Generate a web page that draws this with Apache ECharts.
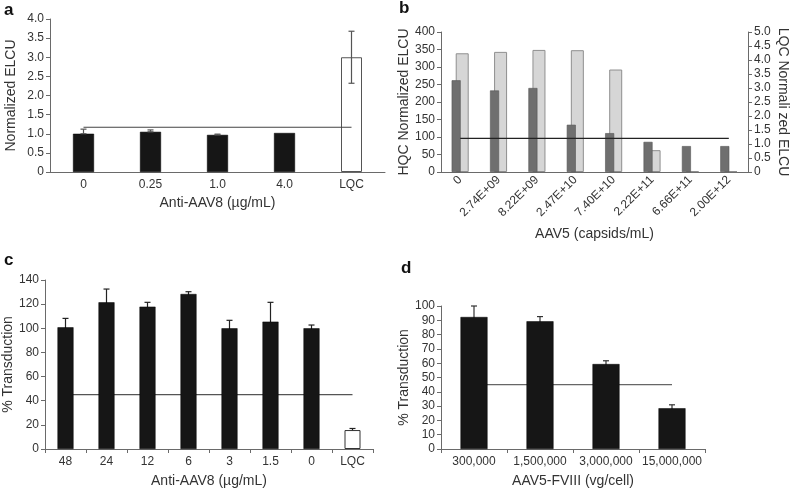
<!DOCTYPE html>
<html><head><meta charset="utf-8">
<script src="https://cdn.jsdelivr.net/npm/echarts@6/dist/echarts.min.js"></script>
<style>html,body{margin:0;padding:0;background:#fff}#c{width:792px;height:492px}</style>
</head><body><div id="c"></div>
<script>
// ---- Panel a ----
const catsA = ['0', '0.25', '1.0', '4.0', 'LQC'];
const valsA = [1.0, 1.05, 0.97, 1.02, 3.0];
const errLoA = [1.0, 1.05, 0.97, 1.02, 2.32];
const errHiA = [1.12, 1.10, 0.99, 1.02, 3.68];
const cutA = [1.17, 1.17, 1.17, 1.17, 1.17];
// ---- Panel b ----
const catsB = ['0', '2.74E+09', '8.22E+09', '2.47E+10', '7.40E+10', '2.22E+11', '6.66E+11', '2.00E+12'];
const hqcB = [262, 233, 240, 135, 111, 86, 74, 74];
const lqcB = [4.24, 4.29, 4.36, 4.35, 3.66, 0.78, 0.03, 0.03];
const cutB = [1.2, 1.2, 1.2, 1.2, 1.2, 1.2, 1.2, 1.2];
// ---- Panel c ----
const catsC = ['48', '24', '12', '6', '3', '1.5', '0', 'LQC'];
const valsC = [100.8, 121.5, 117.9, 128.4, 100, 105.5, 100, 15.7];
const errLoC = [93.4, 110.5, 114.3, 126.5, 93.4, 89.5, 97.3, 14.4];
const errHiC = [108.2, 132.5, 121.5, 130.3, 106.6, 121.5, 102.7, 17.0];
const cutC = [45, 45, 45, 45, 45, 45, 45, 45];
// ---- Panel d ----
const catsD = ['300,000', '1,500,000', '3,000,000', '15,000,000'];
const valsD = [92.3, 89.3, 59.4, 28.5];
const errLoD = [84.6, 86.0, 57.1, 26.1];
const errHiD = [100, 92.6, 61.7, 30.9];
const cutD = [45, 45, 45, 45];

const FONT = 'Liberation Sans, Arial, sans-serif';
const TXT = '#333';
const AX = '#6a6a6a';

function fmt1(v) { return v === 0 ? '0' : v.toFixed(1); }

function errSeries(gi, yi, lo, hi, color, cap, z) {
  return {
    type: 'custom', coordinateSystem: 'cartesian2d', xAxisIndex: gi, yAxisIndex: yi, z: z,
    data: lo.map((l, i) => [i, l, hi[i]]),
    encode: { x: 0, y: [1, 2] },
    renderItem: function (params, api) {
      const x = api.value(0);
      const a = api.coord([x, api.value(1)]);
      const b = api.coord([x, api.value(2)]);
      if (Math.abs(a[1] - b[1]) < 0.5) return null;
      const st = { stroke: color, lineWidth: 1.2 };
      return {
        type: 'group', children: [
          { type: 'line', shape: { x1: a[0], y1: a[1], x2: b[0], y2: b[1] }, style: st },
          { type: 'line', shape: { x1: a[0] - cap, y1: a[1], x2: a[0] + cap, y2: a[1] }, style: st },
          { type: 'line', shape: { x1: b[0] - cap, y1: b[1], x2: b[0] + cap, y2: b[1] }, style: st }
        ]
      };
    }
  };
}

function xCat(gi, data, opts) {
  return Object.assign({
    type: 'category', gridIndex: gi, data: data,
    axisLine: { lineStyle: { color: AX } },
    axisTick: { show: false },
    axisLabel: { color: TXT, fontFamily: FONT, fontSize: 12, margin: 7, interval: 0 },
    nameLocation: 'middle',
    nameTextStyle: { color: TXT, fontFamily: FONT, fontSize: 14 }
  }, opts);
}
function yVal(gi, min, max, interval, opts) {
  return Object.assign({
    type: 'value', gridIndex: gi, min: min, max: max, interval: interval,
    splitLine: { show: false },
    axisLine: { show: true, lineStyle: { color: AX } },
    axisTick: { show: true, length: 4, lineStyle: { color: AX } },
    axisLabel: { color: TXT, fontFamily: FONT, fontSize: 12, margin: 6 },
    nameLocation: 'middle',
    nameTextStyle: { color: TXT, fontFamily: FONT, fontSize: 14 }
  }, opts);
}

const chart = echarts.init(document.getElementById('c'), null, { renderer: 'canvas' });
chart.setOption({
  animation: false,
  backgroundColor: '#fff',
  textStyle: { fontFamily: FONT },
  grid: [
    { left: 50, top: 19, width: 335, height: 153 },
    { left: 441, top: 32, width: 307, height: 140 },
    { left: 42, top: 280, width: 331, height: 169 },
    { left: 441, top: 306, width: 264, height: 143 }
  ],
  xAxis: [
    xCat(0, catsA, { name: 'Anti-AAV8 (µg/mL)', nameGap: 24 }),
    xCat(1, catsB, { name: 'AAV5 (capsids/mL)', nameGap: 55,
      axisLabel: { color: TXT, fontFamily: FONT, fontSize: 12, rotate: 45, margin: 6, interval: 0 } }),
    xCat(2, catsC, { name: 'Anti-AAV8 (µg/mL)', nameGap: 25,
      axisTick: { show: true, length: 4, lineStyle: { color: AX } } }),
    xCat(3, catsD, { name: 'AAV5-FVIII (vg/cell)', nameGap: 25,
      axisTick: { show: true, length: 4, lineStyle: { color: AX } } })
  ],
  yAxis: [
    yVal(0, 0, 4, 0.5, { name: 'Normalized ELCU', nameGap: 32,
      axisLabel: { color: TXT, fontFamily: FONT, fontSize: 12, margin: 6, formatter: fmt1 } }),
    yVal(1, 0, 400, 50, { name: 'HQC Normalized ELCU', nameGap: 30 }),
    yVal(1, 0, 5, 0.5, { position: 'right', name: 'LQC Normali zed ELCU', nameGap: 28, nameRotate: -90,
      axisLabel: { color: TXT, fontFamily: FONT, fontSize: 12, margin: 6, formatter: fmt1 } }),
    yVal(2, 0, 140, 20, { name: '% Transduction', nameGap: 30 }),
    yVal(3, 0, 100, 10, { name: '% Transduction', nameGap: 30,
      axisLabel: { color: TXT, fontFamily: FONT, fontSize: 12, margin: 6, interval: 0 } })
  ],
  graphic: [
    { type: 'text', left: 4, top: 2, style: { text: 'a', font: 'bold 17px ' + FONT, fill: '#111' } },
    { type: 'text', left: 399, top: 0, style: { text: 'b', font: 'bold 17px ' + FONT, fill: '#111' } },
    { type: 'text', left: 4, top: 252, style: { text: 'c', font: 'bold 17px ' + FONT, fill: '#111' } },
    { type: 'text', left: 401, top: 260, style: { text: 'd', font: 'bold 17px ' + FONT, fill: '#111' } }
  ],
  series: [
    // panel a
    { type: 'line', xAxisIndex: 0, yAxisIndex: 0, data: cutA, symbol: 'none', z: 4,
      lineStyle: { color: '#444', width: 1.2 } },
    { type: 'bar', xAxisIndex: 0, yAxisIndex: 0, barWidth: 21, z: 3,
      data: valsA.map((v, i) => catsA[i] === 'LQC'
        ? { value: v, itemStyle: { color: '#fff', borderColor: '#555', borderWidth: 1 } }
        : v),
      itemStyle: { color: '#161616', borderColor: '#000', borderWidth: 0.5 } },
    errSeries(0, 0, errLoA, errHiA, '#555', 3, 5),
    // panel b
    { type: 'bar', xAxisIndex: 1, yAxisIndex: 1, data: hqcB, barWidth: 9, barGap: '-55%', z: 3,
      itemStyle: { color: '#6f6f6f', borderColor: '#555', borderWidth: 0.6 } },
    { type: 'bar', xAxisIndex: 1, yAxisIndex: 2, data: lqcB, barWidth: 13, barGap: '-55%', z: 2,
      itemStyle: { color: '#d6d6d6', borderColor: '#8f8f8f', borderWidth: 1 } },
    { type: 'line', xAxisIndex: 1, yAxisIndex: 2, data: cutB, symbol: 'none', z: 6,
      lineStyle: { color: '#222', width: 1.2 } },
    // panel c
    { type: 'line', xAxisIndex: 2, yAxisIndex: 3, data: cutC, symbol: 'none', z: 1,
      lineStyle: { color: '#555', width: 1.2 } },
    { type: 'bar', xAxisIndex: 2, yAxisIndex: 3, barWidth: 16, z: 3,
      data: valsC.map((v, i) => catsC[i] === 'LQC'
        ? { value: v, itemStyle: { color: '#fff', borderColor: '#333', borderWidth: 1 } }
        : v),
      itemStyle: { color: '#161616', borderColor: '#000', borderWidth: 0.5 } },
    errSeries(2, 3, errLoC, errHiC, '#222', 3, 2),
    // panel d
    { type: 'line', xAxisIndex: 3, yAxisIndex: 4, data: cutD, symbol: 'none', z: 1,
      lineStyle: { color: '#666', width: 1.2 } },
    { type: 'bar', xAxisIndex: 3, yAxisIndex: 4, data: valsD, barWidth: 27, z: 3,
      itemStyle: { color: '#161616', borderColor: '#000', borderWidth: 0.5 } },
    errSeries(3, 4, errLoD, errHiD, '#333', 3, 2)
  ]
});
</script></body></html>
